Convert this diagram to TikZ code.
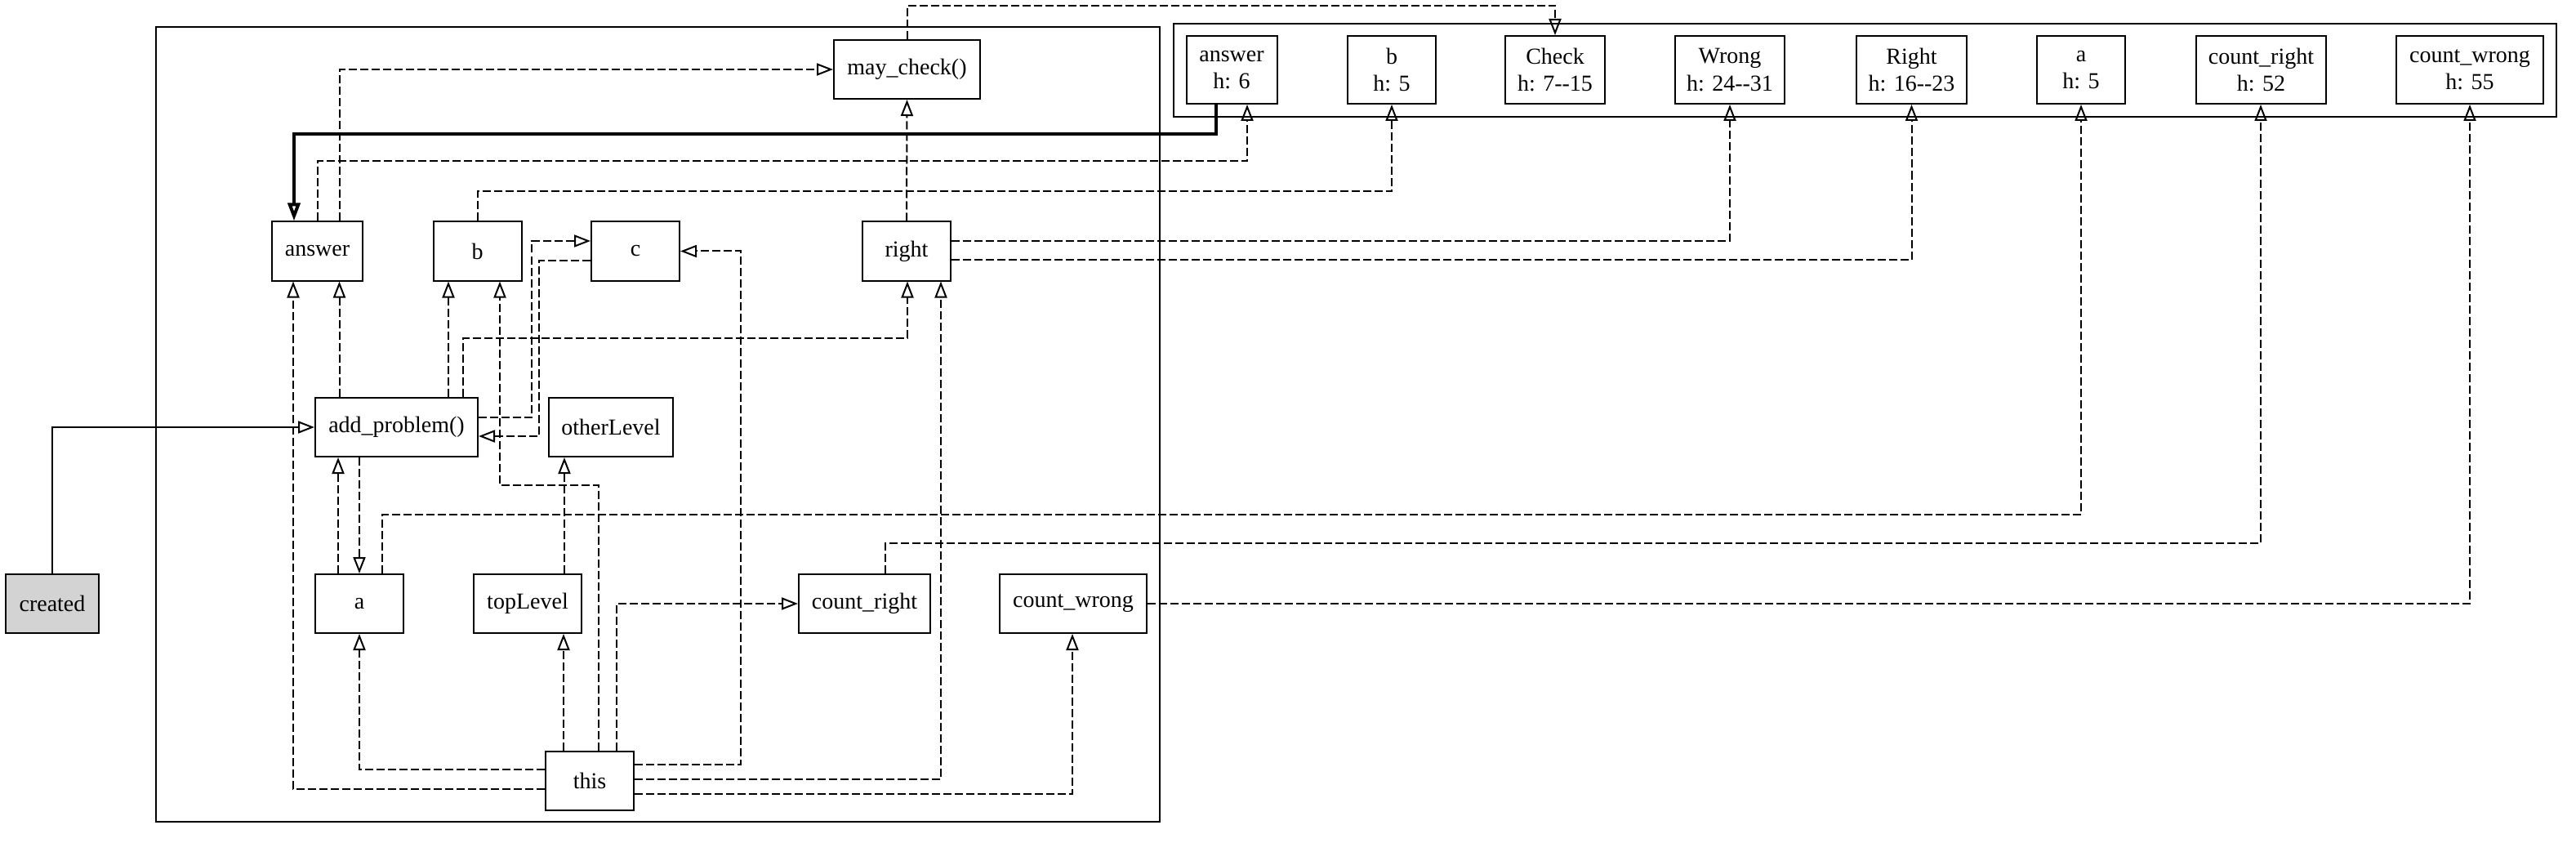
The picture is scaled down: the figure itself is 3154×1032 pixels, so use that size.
\documentclass[tikz,border=0pt]{standalone}
\usepackage{fontspec}
\setmainfont{Liberation Serif}
\usetikzlibrary{arrows.meta,calc}
\definecolor{startgray}{HTML}{D3D3D3}

\begin{document}
\begin{tikzpicture}[x=0.5pt, y=-0.5pt, font=\fontsize{14}{16.8}\selectfont,
  box/.style={draw, line width=1pt, inner sep=0pt, minimum height=36pt, align=center},
  hbox/.style={box, minimum height=41.5pt},
  cluster/.style={draw, line width=1pt},
  dep/.style={draw, line width=1pt, dash pattern=on 5pt off 2pt, -{Triangle[open, length=10pt, width=7.5pt]}},
  owner/.style={dep, solid, line width=2pt, -{Triangle[open, length=11pt, width=7.5pt]}}]

\fill[white] (0,0) rectangle (3154,1032);

\draw[cluster] (191,33) rectangle (1420,1006);
\draw[cluster] (1437,29) rectangle (3130,143);

% scope nodes
\node[box, minimum width=89.5pt] (mc) at (1110.5,85) {may\_check()};
\node[box, minimum width=55.5pt] (ans) at (388.5,307.5) {answer};
\node[box, minimum width=54pt] (b) at (584.5,307.5) {b};
\node[box, minimum width=54pt] (c) at (778,307.5) {c};
\node[box, minimum width=54pt] (rt) at (1110,307.5) {right};
\node[box, minimum width=99.5pt] (ap) at (485.5,523) {add\_problem()};
\node[box, minimum width=76pt] (ol) at (748,523) {otherLevel};
\node[box, minimum width=54pt] (a) at (440,739) {a};
\node[box, minimum width=66pt] (tl) at (646,739) {topLevel};
\node[box, minimum width=80.5pt] (cr) at (1058.5,739) {count\_right};
\node[box, minimum width=90pt] (cw) at (1314,739) {count\_wrong};
\node[box, minimum width=54pt] (th) at (722,955.5) {this};
\node[box, minimum width=57pt, fill=startgray] (cre) at (64,739) {created};

% heap nodes
\foreach \nm/\txt/\cx/\w in {hans/{answer\\h: 6}/1508/55.5, hb/{b\\h: 5}/1704/54,
    hchk/{Check\\h: 7-\kern0pt-15}/1904/61, hwr/{Wrong\\h: 24-\kern0pt-31}/2118/67,
    hrgt/{Right\\h: 16-\kern0pt-23}/2340.5/67.5, ha/{a\\h: 5}/2548/54,
    hcr/{count\_right\\h: 52}/2768.5/79.5, hcw/{count\_wrong\\h: 55}/3024/90}
  \node[hbox, minimum width=\w pt] (\nm) at (\cx,85.5) {\txt};

\draw[dep] (mc.north) -- ++(0,-41) -| (hchk.north);
\draw[dep] ($(ans.north)+(27.5,0)$) |- (mc.west);
\draw[dep] (ans.north) -- ++(0,-73) -| ($(hans.south)+(19,0)$);
\draw[owner] ($(hans.south)+(-19,0)$) -- ++(0,36) -| ($(ans.north)+(-28.5,0)$);
\draw[dep] (b.north) -- ++(0,-36) -| (hb.south);
\draw[dep] (rt.north) -- (mc.south);
\draw[dep] ($(rt.east)+(0,-12.5)$) -| (hwr.south);
\draw[dep] ($(rt.east)+(0,10.5)$) -| (hrgt.south);
\draw[dep] ($(ap.east)+(0,-12.5)$) -- ++(65,0) |- ($(c.west)+(0,-12.5)$);
\draw[dep] ($(c.west)+(0,11.5)$) -- ++(-63,0) |- ($(ap.east)+(0,11)$);
\draw[dep] ($(th.east)+(0,-19.5)$) -- ++(130,0) |- (c.east);
\draw[dep] ($(th.west)+(0,10.5)$) -| ($(ans.south)+(-29.5,0)$);
\draw[dep] ($(ap.north)+(-70,0)$) -- ($(ans.south)+(27,0)$);
\draw[dep] ($(ap.north)+(63.5,0)$) -- ($(b.south)+(-35.5,0)$);
\draw[dep] ($(th.north)+(11,0)$) -- ++(0,-325) -| ($(b.south)+(27.5,0)$);
\draw[dep] ($(ap.north)+(81.5,0)$) -- ++(0,-72) -| ($(rt.south)+(1,0)$);
\draw[dep] ($(th.east)+(0,-1.5)$) -| ($(rt.south)+(42,0)$);
\draw[dep] ($(a.north)+(-26,0)$) -- ($(ap.south)+(-71.5,0)$);
\draw[dep] ($(ap.south)+(-45.5,0)$) -- (a.north);
\draw[dep] ($(a.north)+(28,0)$) -- ++(0,-72) -| (ha.south);
\draw[dep] ($(tl.north)+(45,0)$) -- ($(ol.south)+(-57,0)$);
\draw[dep] ($(cr.north)+(25.5,0)$) -- ++(0,-37) -| ($(hcr.south)+(-0.5,0)$);
\draw[dep] ($(th.north)+(32.5,0)$) |- (cr.west);
\draw[dep] (cw.east) -| (hcw.south);
\draw[dep] ($(th.west)+(0,-14)$) -| (a.south);
\draw[dep] ($(th.north)+(-32,0)$) -- ($(tl.south)+(44,0)$);
\draw[dep] ($(th.east)+(0,16.5)$) -| ($(cw.south)+(-1,0)$);
\draw[dep, solid] (cre.north) |- (ap.west);
\end{tikzpicture}
\end{document}
